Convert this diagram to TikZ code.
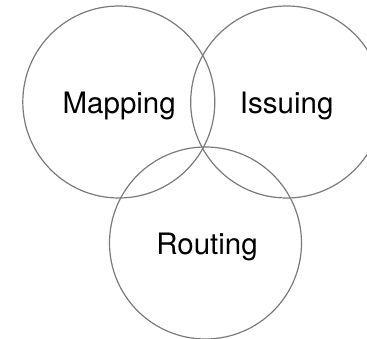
\documentclass[tikz,border=0pt]{standalone}
\usepackage{fontspec}
\setmainfont{TeX Gyre Heros}
\begin{document}
\begin{tikzpicture}[x=1pt,y=-1pt,
  ring/.style={draw=black!52,line width=1.2pt,circle,minimum size=192pt,inner sep=0pt},
  lbl/.style={anchor=base,font=\fontsize{29.5}{33}\selectfont,text=black}]
\useasboundingbox (0,0) rectangle (367,339);
\clip (0,0) rectangle (367,339);
\node[ring] (map) at (118.8,102) {};
\node[ring] (iss) at (286.7,102) {};
\node[ring] (rou) at (205.5,243) {};
\node[lbl] (tmap) at (119.2,114) {Mapping};
\node[lbl] (tiss) at (286.7,114) {Issuing};
\node[lbl] (trou) at (207,255) {Routing};
\end{tikzpicture}
\end{document}
